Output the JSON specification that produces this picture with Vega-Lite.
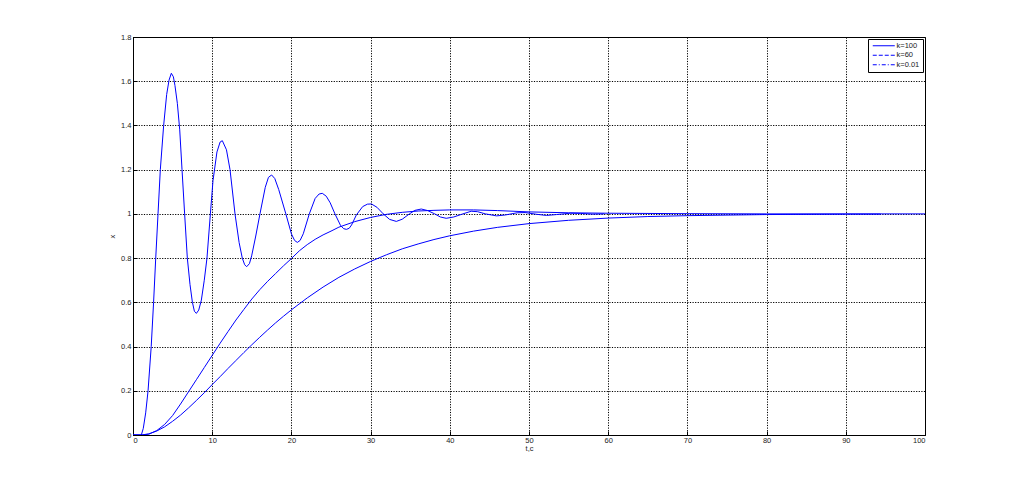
{
  "$schema": "https://vega.github.io/schema/vega-lite/v6.json",
  "width": 792,
  "height": 398,
  "autosize": {"type": "none"},
  "padding": {"left": 133, "top": 37, "right": 98, "bottom": 54},
  "background": "white",
  "config": {
    "view": {"stroke": "black", "strokeWidth": 1},
    "axis": {
      "domainColor": "black",
      "tickColor": "black",
      "gridColor": "black",
      "gridDash": [1.2, 1.4],
      "gridOpacity": 1,
      "gridWidth": 1,
      "labelFont": "Liberation Sans",
      "labelFontSize": 7.5,
      "labelColor": "#222",
      "titleFont": "Liberation Sans",
      "titleFontSize": 7.5,
      "titleFontWeight": "normal",
      "titleColor": "#222",
      "tickSize": -4,
      "labelPadding": 6
    },
    "legend": {
      "labelFont": "Liberation Sans",
      "labelFontSize": 7.5,
      "labelColor": "#222"
    }
  },
  "datasets": {
    "curves": [
      {"k": "k=100", "t": 0, "x": 0},
      {"k": "k=100", "t": 1.05, "x": 0},
      {"k": "k=100", "t": 1.3, "x": 0.03},
      {"k": "k=100", "t": 1.6, "x": 0.1},
      {"k": "k=100", "t": 1.9, "x": 0.2},
      {"k": "k=100", "t": 2.3, "x": 0.4},
      {"k": "k=100", "t": 2.6, "x": 0.6},
      {"k": "k=100", "t": 2.87, "x": 0.8},
      {"k": "k=100", "t": 3.16, "x": 1.0},
      {"k": "k=100", "t": 3.45, "x": 1.2},
      {"k": "k=100", "t": 3.87, "x": 1.4},
      {"k": "k=100", "t": 4.25, "x": 1.54},
      {"k": "k=100", "t": 4.55, "x": 1.605},
      {"k": "k=100", "t": 4.84, "x": 1.636},
      {"k": "k=100", "t": 5.1, "x": 1.62},
      {"k": "k=100", "t": 5.3, "x": 1.58},
      {"k": "k=100", "t": 5.6, "x": 1.5},
      {"k": "k=100", "t": 5.9, "x": 1.38},
      {"k": "k=100", "t": 6.19, "x": 1.2},
      {"k": "k=100", "t": 6.52, "x": 1.0},
      {"k": "k=100", "t": 6.86, "x": 0.8},
      {"k": "k=100", "t": 7.2, "x": 0.68},
      {"k": "k=100", "t": 7.5, "x": 0.6},
      {"k": "k=100", "t": 7.75, "x": 0.56},
      {"k": "k=100", "t": 8.0, "x": 0.55},
      {"k": "k=100", "t": 8.3, "x": 0.565},
      {"k": "k=100", "t": 8.63, "x": 0.61},
      {"k": "k=100", "t": 9.0, "x": 0.7},
      {"k": "k=100", "t": 9.34, "x": 0.8},
      {"k": "k=100", "t": 9.77, "x": 1.0},
      {"k": "k=100", "t": 10.1, "x": 1.15},
      {"k": "k=100", "t": 10.6, "x": 1.28},
      {"k": "k=100", "t": 11.0, "x": 1.325},
      {"k": "k=100", "t": 11.28, "x": 1.331},
      {"k": "k=100", "t": 11.8, "x": 1.29},
      {"k": "k=100", "t": 12.25, "x": 1.2},
      {"k": "k=100", "t": 12.88, "x": 1.0},
      {"k": "k=100", "t": 13.4, "x": 0.87},
      {"k": "k=100", "t": 13.8, "x": 0.8},
      {"k": "k=100", "t": 14.1, "x": 0.77},
      {"k": "k=100", "t": 14.35, "x": 0.761},
      {"k": "k=100", "t": 14.7, "x": 0.775},
      {"k": "k=100", "t": 14.98, "x": 0.81},
      {"k": "k=100", "t": 15.5, "x": 0.9},
      {"k": "k=100", "t": 16.03, "x": 1.0},
      {"k": "k=100", "t": 16.7, "x": 1.12},
      {"k": "k=100", "t": 17.1, "x": 1.165},
      {"k": "k=100", "t": 17.5, "x": 1.176},
      {"k": "k=100", "t": 17.9, "x": 1.16},
      {"k": "k=100", "t": 18.4, "x": 1.11},
      {"k": "k=100", "t": 19.3, "x": 1.0},
      {"k": "k=100", "t": 20.0, "x": 0.91},
      {"k": "k=100", "t": 20.4, "x": 0.88},
      {"k": "k=100", "t": 20.75, "x": 0.871},
      {"k": "k=100", "t": 21.1, "x": 0.88},
      {"k": "k=100", "t": 21.5, "x": 0.91},
      {"k": "k=100", "t": 22.26, "x": 1.0},
      {"k": "k=100", "t": 23.0, "x": 1.07},
      {"k": "k=100", "t": 23.5, "x": 1.09},
      {"k": "k=100", "t": 23.9, "x": 1.093},
      {"k": "k=100", "t": 24.4, "x": 1.08},
      {"k": "k=100", "t": 24.9, "x": 1.05},
      {"k": "k=100", "t": 25.5, "x": 1.0},
      {"k": "k=100", "t": 26.2, "x": 0.948},
      {"k": "k=100", "t": 26.6, "x": 0.933},
      {"k": "k=100", "t": 26.95, "x": 0.93},
      {"k": "k=100", "t": 27.3, "x": 0.935},
      {"k": "k=100", "t": 27.6, "x": 0.95},
      {"k": "k=100", "t": 28.2, "x": 0.995},
      {"k": "k=100", "t": 29.0, "x": 1.033},
      {"k": "k=100", "t": 29.6, "x": 1.044},
      {"k": "k=100", "t": 30.1, "x": 1.045},
      {"k": "k=100", "t": 30.8, "x": 1.03},
      {"k": "k=100", "t": 31.6, "x": 1.0},
      {"k": "k=100", "t": 32.4, "x": 0.975},
      {"k": "k=100", "t": 33.25, "x": 0.966},
      {"k": "k=100", "t": 34.0, "x": 0.976},
      {"k": "k=100", "t": 34.9, "x": 1.0},
      {"k": "k=100", "t": 35.6, "x": 1.016},
      {"k": "k=100", "t": 36.4, "x": 1.022},
      {"k": "k=100", "t": 37.2, "x": 1.015},
      {"k": "k=100", "t": 38.1, "x": 1.0},
      {"k": "k=100", "t": 38.8, "x": 0.986},
      {"k": "k=100", "t": 39.55, "x": 0.98},
      {"k": "k=100", "t": 40.5, "x": 0.986},
      {"k": "k=100", "t": 41.65, "x": 1.0},
      {"k": "k=100", "t": 42.7, "x": 1.012},
      {"k": "k=100", "t": 43.5, "x": 1.01},
      {"k": "k=100", "t": 44.5, "x": 1.0},
      {"k": "k=100", "t": 45.9, "x": 0.991},
      {"k": "k=100", "t": 47.0, "x": 0.995},
      {"k": "k=100", "t": 48.5, "x": 1.005},
      {"k": "k=100", "t": 49.5, "x": 1.006},
      {"k": "k=100", "t": 51.0, "x": 0.998},
      {"k": "k=100", "t": 52.2, "x": 0.993},
      {"k": "k=100", "t": 53.5, "x": 0.997},
      {"k": "k=100", "t": 55.2, "x": 1.003},
      {"k": "k=100", "t": 56.5, "x": 1.002},
      {"k": "k=100", "t": 58.0, "x": 0.999},
      {"k": "k=100", "t": 59.5, "x": 1.0},

      {"k": "k=60", "t": 0, "x": 0},
      {"k": "k=60", "t": 1.2, "x": 0},
      {"k": "k=60", "t": 2, "x": 0.004},
      {"k": "k=60", "t": 3, "x": 0.02},
      {"k": "k=60", "t": 4, "x": 0.048},
      {"k": "k=60", "t": 5, "x": 0.088},
      {"k": "k=60", "t": 6, "x": 0.14},
      {"k": "k=60", "t": 7, "x": 0.195},
      {"k": "k=60", "t": 8, "x": 0.25},
      {"k": "k=60", "t": 9, "x": 0.305},
      {"k": "k=60", "t": 10, "x": 0.36},
      {"k": "k=60", "t": 11, "x": 0.415},
      {"k": "k=60", "t": 12, "x": 0.468},
      {"k": "k=60", "t": 13, "x": 0.52},
      {"k": "k=60", "t": 14, "x": 0.568},
      {"k": "k=60", "t": 15, "x": 0.615},
      {"k": "k=60", "t": 16, "x": 0.657},
      {"k": "k=60", "t": 17, "x": 0.695},
      {"k": "k=60", "t": 18, "x": 0.73},
      {"k": "k=60", "t": 19, "x": 0.765},
      {"k": "k=60", "t": 20, "x": 0.798},
      {"k": "k=60", "t": 21, "x": 0.833},
      {"k": "k=60", "t": 22, "x": 0.861},
      {"k": "k=60", "t": 23, "x": 0.885},
      {"k": "k=60", "t": 24, "x": 0.905},
      {"k": "k=60", "t": 25, "x": 0.922},
      {"k": "k=60", "t": 26, "x": 0.94},
      {"k": "k=60", "t": 28, "x": 0.965},
      {"k": "k=60", "t": 30, "x": 0.984},
      {"k": "k=60", "t": 32, "x": 0.998},
      {"k": "k=60", "t": 34, "x": 1.007},
      {"k": "k=60", "t": 36, "x": 1.013},
      {"k": "k=60", "t": 38, "x": 1.016},
      {"k": "k=60", "t": 40, "x": 1.018},
      {"k": "k=60", "t": 43, "x": 1.018},
      {"k": "k=60", "t": 46, "x": 1.015},
      {"k": "k=60", "t": 50, "x": 1.009},
      {"k": "k=60", "t": 55, "x": 1.005},
      {"k": "k=60", "t": 60, "x": 1.003},
      {"k": "k=60", "t": 70, "x": 1.001},
      {"k": "k=60", "t": 80, "x": 1.0},
      {"k": "k=60", "t": 90, "x": 1.0},
      {"k": "k=60", "t": 100, "x": 1.0},

      {"k": "k=0.01", "t": 0, "x": 0},
      {"k": "k=0.01", "t": 1, "x": 0},
      {"k": "k=0.01", "t": 2, "x": 0.005},
      {"k": "k=0.01", "t": 3, "x": 0.018},
      {"k": "k=0.01", "t": 4, "x": 0.037},
      {"k": "k=0.01", "t": 5, "x": 0.062},
      {"k": "k=0.01", "t": 6, "x": 0.09},
      {"k": "k=0.01", "t": 7, "x": 0.122},
      {"k": "k=0.01", "t": 8, "x": 0.156},
      {"k": "k=0.01", "t": 9, "x": 0.191},
      {"k": "k=0.01", "t": 10, "x": 0.228},
      {"k": "k=0.01", "t": 11, "x": 0.264},
      {"k": "k=0.01", "t": 12, "x": 0.301},
      {"k": "k=0.01", "t": 13, "x": 0.337},
      {"k": "k=0.01", "t": 14, "x": 0.373},
      {"k": "k=0.01", "t": 15, "x": 0.408},
      {"k": "k=0.01", "t": 16, "x": 0.442},
      {"k": "k=0.01", "t": 17, "x": 0.475},
      {"k": "k=0.01", "t": 18, "x": 0.507},
      {"k": "k=0.01", "t": 19, "x": 0.537},
      {"k": "k=0.01", "t": 20, "x": 0.566},
      {"k": "k=0.01", "t": 22, "x": 0.62},
      {"k": "k=0.01", "t": 24, "x": 0.669},
      {"k": "k=0.01", "t": 26, "x": 0.713},
      {"k": "k=0.01", "t": 28, "x": 0.751},
      {"k": "k=0.01", "t": 30, "x": 0.785},
      {"k": "k=0.01", "t": 32, "x": 0.815},
      {"k": "k=0.01", "t": 34, "x": 0.842},
      {"k": "k=0.01", "t": 36, "x": 0.864},
      {"k": "k=0.01", "t": 38, "x": 0.884},
      {"k": "k=0.01", "t": 40, "x": 0.901},
      {"k": "k=0.01", "t": 43, "x": 0.922},
      {"k": "k=0.01", "t": 46, "x": 0.939},
      {"k": "k=0.01", "t": 50, "x": 0.956},
      {"k": "k=0.01", "t": 55, "x": 0.971},
      {"k": "k=0.01", "t": 60, "x": 0.981},
      {"k": "k=0.01", "t": 65, "x": 0.988},
      {"k": "k=0.01", "t": 70, "x": 0.992},
      {"k": "k=0.01", "t": 80, "x": 0.997},
      {"k": "k=0.01", "t": 90, "x": 0.9987},
      {"k": "k=0.01", "t": 94.4, "x": 0.999}
    ],
    "keys": [
      {"k": "k=100"},
      {"k": "k=60"},
      {"k": "k=0.01"}
    ]
  },
  "layer": [
    {
      "data": {"name": "curves"},
      "mark": {"type": "line", "color": "#0000ff", "strokeWidth": 1, "clip": true},
      "encoding": {
        "x": {
          "field": "t",
          "type": "quantitative",
          "scale": {"domain": [0, 100], "nice": false, "zero": false},
          "axis": {"title": "t,c", "values": [0, 10, 20, 30, 40, 50, 60, 70, 80, 90, 100], "format": "d", "titlePadding": 1, "labelPadding": 5}
        },
        "y": {
          "field": "x",
          "type": "quantitative",
          "scale": {"domain": [0, 1.8], "nice": false},
          "axis": {"title": "x", "values": [0, 0.2, 0.4, 0.6, 0.8, 1, 1.2, 1.4, 1.6, 1.8], "format": ".1~f", "titlePadding": 4}
        },
        "detail": {"field": "k", "type": "nominal"}
      }
    },
    {
      "data": {"name": "keys"},
      "mark": {"type": "rule", "strokeWidth": 0},
      "encoding": {
        "x": {"datum": 0, "type": "quantitative"},
        "strokeDash": {
          "field": "k",
          "type": "nominal",
          "scale": {"domain": ["k=100", "k=60", "k=0.01"], "range": [[30, 0], [4, 2], [4, 2, 1, 2]]},
          "legend": {
            "title": null,
            "orient": "top-right",
            "offset": 2,
            "fillColor": "white",
            "strokeColor": "black",
            "padding": 3,
            "symbolType": "M-5.5,0H5.5",
            "symbolSize": 16,
            "symbolStrokeColor": "#0000ff",
            "symbolFillColor": "transparent",
            "symbolStrokeWidth": 1,
            "symbolOpacity": 1,
            "symbolOffset": 9,
            "rowPadding": 0.5,
            "labelOffset": 9
          }
        }
      }
    }
  ]
}
